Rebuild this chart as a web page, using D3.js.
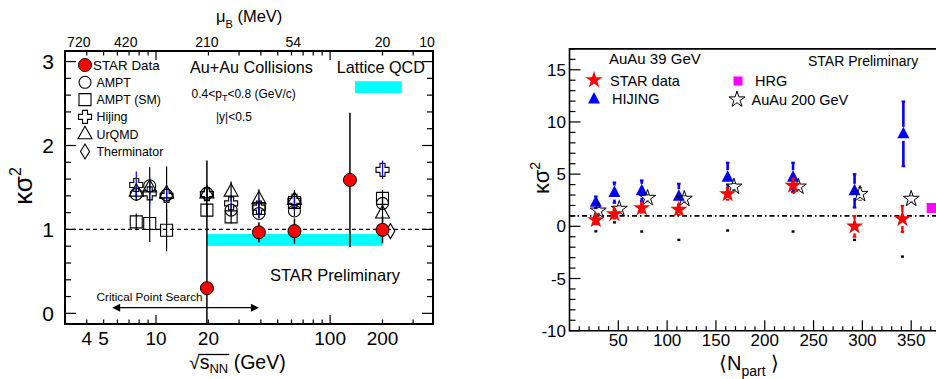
<!DOCTYPE html>
<html><head><meta charset="utf-8">
<script src="https://cdn.jsdelivr.net/npm/d3@7"></script>
<style>
body{margin:0;background:#fff}
svg{display:block}
text{font-family:"Liberation Sans",Arial,Helvetica,sans-serif;fill:#000}
</style>
</head><body>
<svg id="c" width="936" height="379"></svg>
<script>
// ================= LEFT PANEL DATA =================
const modelEnergy = [7.7, 9.2, 11.5, 19.6, 27, 39, 62.4, 200];
const amptK     = [1.42, 1.52, 1.41, 1.43, 1.23, 1.19, 1.22, 1.31];
const amptErr   = [0.08, 0.22, 0.34, 0.06, 0.06, 0.06, 0.06, 0.06];
const amptSmK   = [1.09, 1.07, 0.99, 1.23, 1.15, 1.25, 1.32, 1.37];
const amptSmErr = [0.10, 0.22, 0.25, 0.08, 0.08, 0.06, 0.06, 0.10];
const hijingK   = [1.53, 1.43, 1.40, 1.42, 1.31, 1.26, 1.34, 1.71];
const hijingErr = [0.16, 0.14, 0.08, 0.06, 0.10, 0.12, 0.12, 0.11];
const urqmdK    = [1.45, 1.50, 1.43, 1.43, 1.45, 1.36, 1.35, 1.19];
const urqmdErr  = [0.05, 0.08, 0.08, 0.05, 0.12, 0.12, 0.12, 0.12];
const thermEnergy = [222];
const thermK      = [0.98];
const starEnergy  = [19.6, 39, 62.4, 130, 200];
const starKappa   = [0.30, 0.965, 0.98, 1.59, 0.995];
const starKappaErr= [1.52, 0.12, 0.15, 0.80, 0.16];
const starBandE   = [19.6, 200];
const starBandK   = [0.805, 0.944];
const latticeE    = [139, 258];
const latticeK    = [2.626, 2.766];
const critArrowE  = [5.6, 39];
const sqrtsLabels = [4, 5, 10, 20, 100, 200];
const kappaLabelsL = [0, 1, 2, 3];
const muBLabels   = ["720", "420", "210", "54", "20", "10"];
const muBAtSqrts  = [3.6, 6.7, 19.6, 61.5, 200, 360];
const legendL = [
  {name:"STAR Data", m:"star"}, {name:"AMPT", m:"circle"}, {name:"AMPT (SM)", m:"square"},
  {name:"Hijing", m:"cross"}, {name:"UrQMD", m:"triangle"}, {name:"Therminator", m:"diamond"}
];

// ================= RIGHT PANEL DATA =================
const npartStar   = [27, 46, 74, 112, 162, 229, 292, 341];
const starK39     = [0.61, 1.19, 1.76, 1.60, 3.10, 3.90, 0.00, 0.71];
const starK39Err  = [0.40, 0.45, 0.45, 0.50, 0.55, 0.65, 1.00, 1.25];
const npartHijing = [27, 46, 74, 112, 162, 229, 292, 342];
const hijingK39   = [2.30, 3.23, 3.40, 2.88, 4.70, 4.70, 3.40, 8.86];
const hijingK39Err= [0.55, 0.97, 1.00, 1.20, 1.40, 1.40, 1.60, 3.10];
const npart200    = [29.5, 51, 80, 117.6, 168.5, 234.4, 297.6, 350];
const auau200K    = [1.50, 1.67, 2.72, 2.63, 3.80, 3.80, 3.10, 2.63];
const auau200Err  = [0.30, 0.30, 0.30, 0.30, 0.30, 0.30, 0.60, 0.30];
const hrgNpart    = [371];
const hrgK        = [1.76];
const lowMarkK    = [-0.48, 0.38, -0.50, -1.30, -0.40, -0.50, -1.30, -2.90];
const npartLabels = [50, 100, 150, 200, 250, 300, 350];
const kappaLabelsR = [-10, -5, 0, 5, 10, 15];

const svg = d3.select("#c");

// ---------- marker paths ----------
const P = {
  circle: d3.symbol(d3.symbolCircle, Math.PI*36)(),
  square: "M-6,-6H6V6H-6Z",
  cross: "M-2.5,-6.5H2.5V-2.5H6.5V2.5H2.5V6.5H-2.5V2.5H-6.5V-2.5H-2.5Z",
  triangle: "M0,-8L7,4.5L-7,4.5Z",
  diamond: "M0,-7.5L4.5,0L0,7.5L-4.5,0Z"
};
function marker(g, type, x, y){
  if(type === "star"){
    return g.append("circle").attr("cx",x).attr("cy",y).attr("r",6.5)
      .attr("fill","#ff0000").attr("stroke","#000").attr("stroke-width",1);
  }
  return g.append("path").attr("d",P[type]).attr("transform",`translate(${x},${y})`)
    .attr("fill","none").attr("stroke","#000").attr("stroke-width",1.1);
}

// ================= LEFT PANEL =================
const xL = d3.scaleLog().domain([3, 390]).range([65, 433]);
const yL = d3.scaleLinear().domain([-0.127, 3.126]).range([324, 51]);
svg.append("clipPath").attr("id","clipL").append("rect")
  .attr("x",xL.range()[0]).attr("y",yL.range()[1])
  .attr("width",xL.range()[1]-xL.range()[0]).attr("height",yL.range()[0]-yL.range()[1]);
const gL = svg.append("g");
const pL = gL.append("g").attr("clip-path","url(#clipL)");

// bands
pL.append("rect").attr("x",xL(starBandE[0])).attr("width",xL(starBandE[1])-xL(starBandE[0]))
  .attr("y",yL(starBandK[1])).attr("height",yL(starBandK[0])-yL(starBandK[1])).attr("fill","#00ffff");
pL.append("rect").attr("x",xL(latticeE[0])).attr("width",xL(latticeE[1])-xL(latticeE[0]))
  .attr("y",yL(latticeK[1])).attr("height",yL(latticeK[0])-yL(latticeK[1])).attr("fill","#00ffff");
// dashed unity line
pL.append("line").attr("x1",xL.range()[0]).attr("x2",xL.range()[1]).attr("y1",yL(1)).attr("y2",yL(1))
  .attr("stroke","#000").attr("stroke-width",1.2).attr("stroke-dasharray","4,3");

// model error bars
const models = [
  {k:amptSmK, e:amptSmErr, m:"square", c:"#000"},
  {k:amptK, e:amptErr, m:"circle", c:"#000"},
  {k:urqmdK, e:urqmdErr, m:"triangle", c:"#000"},
  {k:hijingK, e:hijingErr, m:"cross", c:"#0000ff"}
];
models.forEach(md => {
  modelEnergy.forEach((E,i) => {
    pL.append("line").attr("x1",xL(E)).attr("x2",xL(E))
      .attr("y1",yL(md.k[i]-md.e[i])).attr("y2",yL(md.k[i]+md.e[i]))
      .attr("stroke",md.c).attr("stroke-width",1.2);
  });
});
// STAR error bars
starEnergy.forEach((E,i) => {
  pL.append("line").attr("x1",xL(E)).attr("x2",xL(E))
    .attr("y1",yL(starKappa[i]-starKappaErr[i])).attr("y2",yL(starKappa[i]+starKappaErr[i]))
    .attr("stroke","#000").attr("stroke-width",1.5);
});
// model markers
models.forEach(md => {
  modelEnergy.forEach((E,i) => marker(pL, md.m, xL(E), yL(md.k[i])));
});
thermEnergy.forEach((E,i) => marker(pL, "diamond", xL(E), yL(thermK[i])));
starEnergy.forEach((E,i) => marker(pL, "star", xL(E), yL(starKappa[i])));

// critical point arrow
const ay = yL(0.067);
const ax0 = xL(critArrowE[0]), ax1 = xL(critArrowE[1]);
gL.append("line").attr("x1",ax0+6).attr("x2",ax1-6).attr("y1",ay).attr("y2",ay).attr("stroke","#000").attr("stroke-width",1.2);
gL.append("path").attr("d",`M${ax0},${ay}l8,-4v8z`).attr("fill","#000");
gL.append("path").attr("d",`M${ax1},${ay}l-8,-4v8z`).attr("fill","#000");
gL.append("text").attr("x",(ax0+ax1)/2 - 36).attr("y",ay-7).attr("font-size",11.7).attr("text-anchor","middle").text("Critical Point Search");

// texts
gL.append("text").attr("x",190).attr("y",73).attr("font-size",16.2).text("Au+Au Collisions");
gL.append("text").attr("x",336.7).attr("y",73).attr("font-size",16.2).text("Lattice QCD");
const ptT = gL.append("text").attr("x",191.5).attr("y",98).attr("font-size",12);
ptT.append("tspan").text("0.4<p");
ptT.append("tspan").attr("font-size",9).attr("dy",3).text("T");
ptT.append("tspan").attr("dy",-3).text("<0.8 (GeV/c)");
gL.append("text").attr("x",216).attr("y",121).attr("font-size",12).text("|y|<0.5");
gL.append("text").attr("x",270).attr("y",281).attr("font-size",16.5).text("STAR Preliminary");

// legend
legendL.forEach((d,i) => {
  const y = 65 + i*17.3;
  marker(gL, d.m, 85, y);
  gL.append("text").attr("x", i===0 ? 93 : 96.5).attr("y", y + (i===0?5:4.5))
    .attr("font-size", i===0 ? 13.4 : 12.4).text(d.name);
});

// frame
const fL = {x0:xL.range()[0], x1:xL.range()[1], y0:yL.range()[1], y1:yL.range()[0]};
gL.append("rect").attr("x",fL.x0).attr("y",fL.y0).attr("width",fL.x1-fL.x0).attr("height",fL.y1-fL.y0)
  .attr("fill","none").attr("stroke","#000").attr("stroke-width",2);
// log ticks
const logTicks = [];
[1,10,100].forEach(dec => { for(let m=1;m<10;m++){ const v=m*dec; if(v>=xL.domain()[0] && v<=xL.domain()[1]) logTicks.push(v);} });
logTicks.forEach(v => {
  const major = (v===10 || v===100);
  const len = major ? 9 : 4.5;
  gL.append("line").attr("x1",xL(v)).attr("x2",xL(v)).attr("y1",fL.y1).attr("y2",fL.y1-len).attr("stroke","#000").attr("stroke-width",1.2);
  gL.append("line").attr("x1",xL(v)).attr("x2",xL(v)).attr("y1",fL.y0).attr("y2",fL.y0+len).attr("stroke","#000").attr("stroke-width",1.2);
});
sqrtsLabels.forEach(v => {
  gL.append("text").attr("x",xL(v)).attr("y",345).attr("font-size",19).attr("text-anchor","middle").text(v);
});
muBLabels.forEach((t,i) => {
  gL.append("text").attr("x",xL(muBAtSqrts[i])).attr("y",46.5).attr("font-size",14).attr("text-anchor","middle").text(t);
});
// y ticks
for(let v=0; v<=3.0001; v+=0.2){
  const major = Math.abs(v-Math.round(v))<1e-6;
  const len = major ? 11 : 6;
  gL.append("line").attr("x1",fL.x0).attr("x2",fL.x0+len).attr("y1",yL(v)).attr("y2",yL(v)).attr("stroke","#000").attr("stroke-width",1.2);
  gL.append("line").attr("x1",fL.x1).attr("x2",fL.x1-len).attr("y1",yL(v)).attr("y2",yL(v)).attr("stroke","#000").attr("stroke-width",1.2);
}
kappaLabelsL.forEach(v => {
  gL.append("text").attr("x",54).attr("y",yL(v)+7.5).attr("font-size",21).attr("text-anchor","end").text(v);
});
// axis titles
const muT = gL.append("text").attr("x",216).attr("y",22).attr("font-size",16.5);
muT.append("tspan").text("μ");
muT.append("tspan").attr("font-size",11).attr("dy",6).text("B");
muT.append("tspan").attr("dy",-6).text(" (MeV)");

const sT = gL.append("text").attr("x",189).attr("y",369).attr("font-size",19.5);
sT.append("tspan").text("√");
sT.append("tspan").text("s");
sT.append("tspan").attr("font-size",13).attr("dy",4).text("NN");
sT.append("tspan").attr("dy",-4).text(" (GeV)");
{
  const node = sT.node();
  const e0 = node.getExtentOfChar(0);
  const e3 = node.getExtentOfChar(3);
  const yb = e0.y + 3.5;
  gL.append("line").attr("x1",e0.x+e0.width-1).attr("x2",e3.x+e3.width+1).attr("y1",yb).attr("y2",yb).attr("stroke","#000").attr("stroke-width",1.3);
}
const kT = gL.append("text").attr("transform","translate(32,186) rotate(-90)").attr("font-size",26).attr("text-anchor","middle");
kT.append("tspan").text("κσ");
kT.append("tspan").attr("font-size",16).attr("dy",-11).text("2");

// ================= RIGHT PANEL =================
const xR = d3.scaleLinear().domain([0, 400]).range([569.5, 960]);
const yR = d3.scaleLinear().domain([-10, 17]).range([330.7, 48.9]);
const gR = svg.append("g");
const fR = {x0:xR.range()[0], x1:xR.range()[1], y0:yR.range()[1], y1:yR.range()[0]};

// dash-dot unity line
gR.append("line").attr("x1",fR.x0).attr("x2",fR.x1).attr("y1",yR(1)).attr("y2",yR(1))
  .attr("stroke","#000").attr("stroke-width",1.6).attr("stroke-dasharray","5,3,1.5,3");

// low black marks
npartStar.forEach((n,i) => {
  gR.append("rect").attr("x",xR(n)-1.5).attr("y",yR(lowMarkK[i])-1.2).attr("width",3).attr("height",2.4).attr("fill","#000");
});

function gapBar(g, x, y, yTop, yBot, gap, color, w){
  if(yTop < y-gap) g.append("line").attr("x1",x).attr("x2",x).attr("y1",yTop).attr("y2",y-gap).attr("stroke",color).attr("stroke-width",w);
  if(yBot > y+gap) g.append("line").attr("x1",x).attr("x2",x).attr("y1",y+gap).attr("y2",yBot).attr("stroke",color).attr("stroke-width",w);
  g.append("line").attr("x1",x-1.8).attr("x2",x+1.8).attr("y1",yTop).attr("y2",yTop).attr("stroke",color).attr("stroke-width",w*0.8);
  g.append("line").attr("x1",x-1.8).attr("x2",x+1.8).attr("y1",yBot).attr("y2",yBot).attr("stroke",color).attr("stroke-width",w*0.8);
}
const triPath = "M0,-7L6,4.5L-6,4.5Z";
const starSym = d3.symbol(d3.symbolStar, 90)();
const starSymOpen = d3.symbol(d3.symbolStar, 80)();

// HIJING
npartHijing.forEach((n,i) => {
  gapBar(gR, xR(n), yR(hijingK39[i]), yR(hijingK39[i]+hijingK39Err[i]), yR(hijingK39[i]-hijingK39Err[i]), 7, "#0000ff", 2.6);
});
npartHijing.forEach((n,i) => {
  gR.append("path").attr("d",triPath).attr("transform",`translate(${xR(n)},${yR(hijingK39[i])})`).attr("fill","#0000ff");
});
// AuAu 200
npart200.forEach((n,i) => {
  gapBar(gR, xR(n), yR(auau200K[i]), yR(auau200K[i]+auau200Err[i]), yR(auau200K[i]-auau200Err[i]), 7, "#000", 1);
});
npart200.forEach((n,i) => {
  gR.append("path").attr("d",starSymOpen).attr("transform",`translate(${xR(n)},${yR(auau200K[i])})`)
    .attr("fill","none").attr("stroke","#000").attr("stroke-width",1);
});
// STAR 39
npartStar.forEach((n,i) => {
  gapBar(gR, xR(n), yR(starK39[i]), yR(starK39[i]+starK39Err[i]), yR(starK39[i]-starK39Err[i]), 7, "#ff0000", 2.4);
});
npartStar.forEach((n,i) => {
  gR.append("path").attr("d",starSym).attr("transform",`translate(${xR(n)},${yR(starK39[i])})`).attr("fill","#ff0000");
});
// HRG
hrgNpart.forEach((n,i) => {
  gR.append("rect").attr("x",xR(n)-5).attr("y",yR(hrgK[i])-5).attr("width",10).attr("height",10).attr("fill","#ff00ff");
});

// frame
gR.append("path").attr("d",`M${fR.x1},${fR.y0}H${fR.x0}V${fR.y1}H${fR.x1}`).attr("fill","none").attr("stroke","#000").attr("stroke-width",1.6);
for(let v=-10; v<=17; v++){
  const major = v%5===0;
  gR.append("line").attr("x1",fR.x0).attr("x2",fR.x0+(major?11:6)).attr("y1",yR(v)).attr("y2",yR(v)).attr("stroke","#000").attr("stroke-width",1.2);
}
for(let v=10; v<=400; v+=10){
  const major = v%50===0;
  gR.append("line").attr("x1",xR(v)).attr("x2",xR(v)).attr("y1",fR.y1).attr("y2",fR.y1-(major?10.5:4.5)).attr("stroke","#000").attr("stroke-width",1.2);
}
kappaLabelsR.forEach(v => {
  gR.append("text").attr("x",566).attr("y",yR(v)+6).attr("font-size",17).attr("text-anchor","end").text(v);
});
npartLabels.forEach(v => {
  gR.append("text").attr("x",xR(v)).attr("y",346).attr("font-size",17).attr("text-anchor","middle").text(v);
});

// texts
gR.append("text").attr("x",609).attr("y",64).attr("font-size",15).text("AuAu 39 GeV");
gR.append("text").attr("x",808).attr("y",66).attr("font-size",14).text("STAR Preliminary");
// legend
gR.append("path").attr("d",starSym).attr("transform","translate(594,80)").attr("fill","#ff0000");
gR.append("text").attr("x",610).attr("y",85.5).attr("font-size",14.5).text("STAR data");
gR.append("path").attr("d",triPath).attr("transform","translate(594,99)").attr("fill","#0000ff");
gR.append("text").attr("x",612).attr("y",104).attr("font-size",14.5).text("HIJING");
gR.append("rect").attr("x",733.5).attr("y",76.5).attr("width",9).attr("height",9).attr("fill","#ff00ff");
gR.append("text").attr("x",755).attr("y",86).attr("font-size",14.5).text("HRG");
gR.append("path").attr("d",starSymOpen).attr("transform","translate(737,99.5)").attr("fill","none").attr("stroke","#000").attr("stroke-width",1);
gR.append("text").attr("x",751.5).attr("y",104.5).attr("font-size",14.5).text("AuAu 200 GeV");

// axis titles
const nT = gR.append("text").attr("x",719).attr("y",370).attr("font-size",20);
nT.append("tspan").text("⟨N");
nT.append("tspan").attr("font-size",14).attr("dy",6).text("part");
nT.append("tspan").attr("dy",-6).text(" ⟩");
const kR = gR.append("text").attr("transform","translate(549,178) rotate(-90)").attr("font-size",22).attr("text-anchor","middle");
kR.append("tspan").text("κσ");
kR.append("tspan").attr("font-size",14).attr("dy",-9).text("2");
</script>
</body></html>
